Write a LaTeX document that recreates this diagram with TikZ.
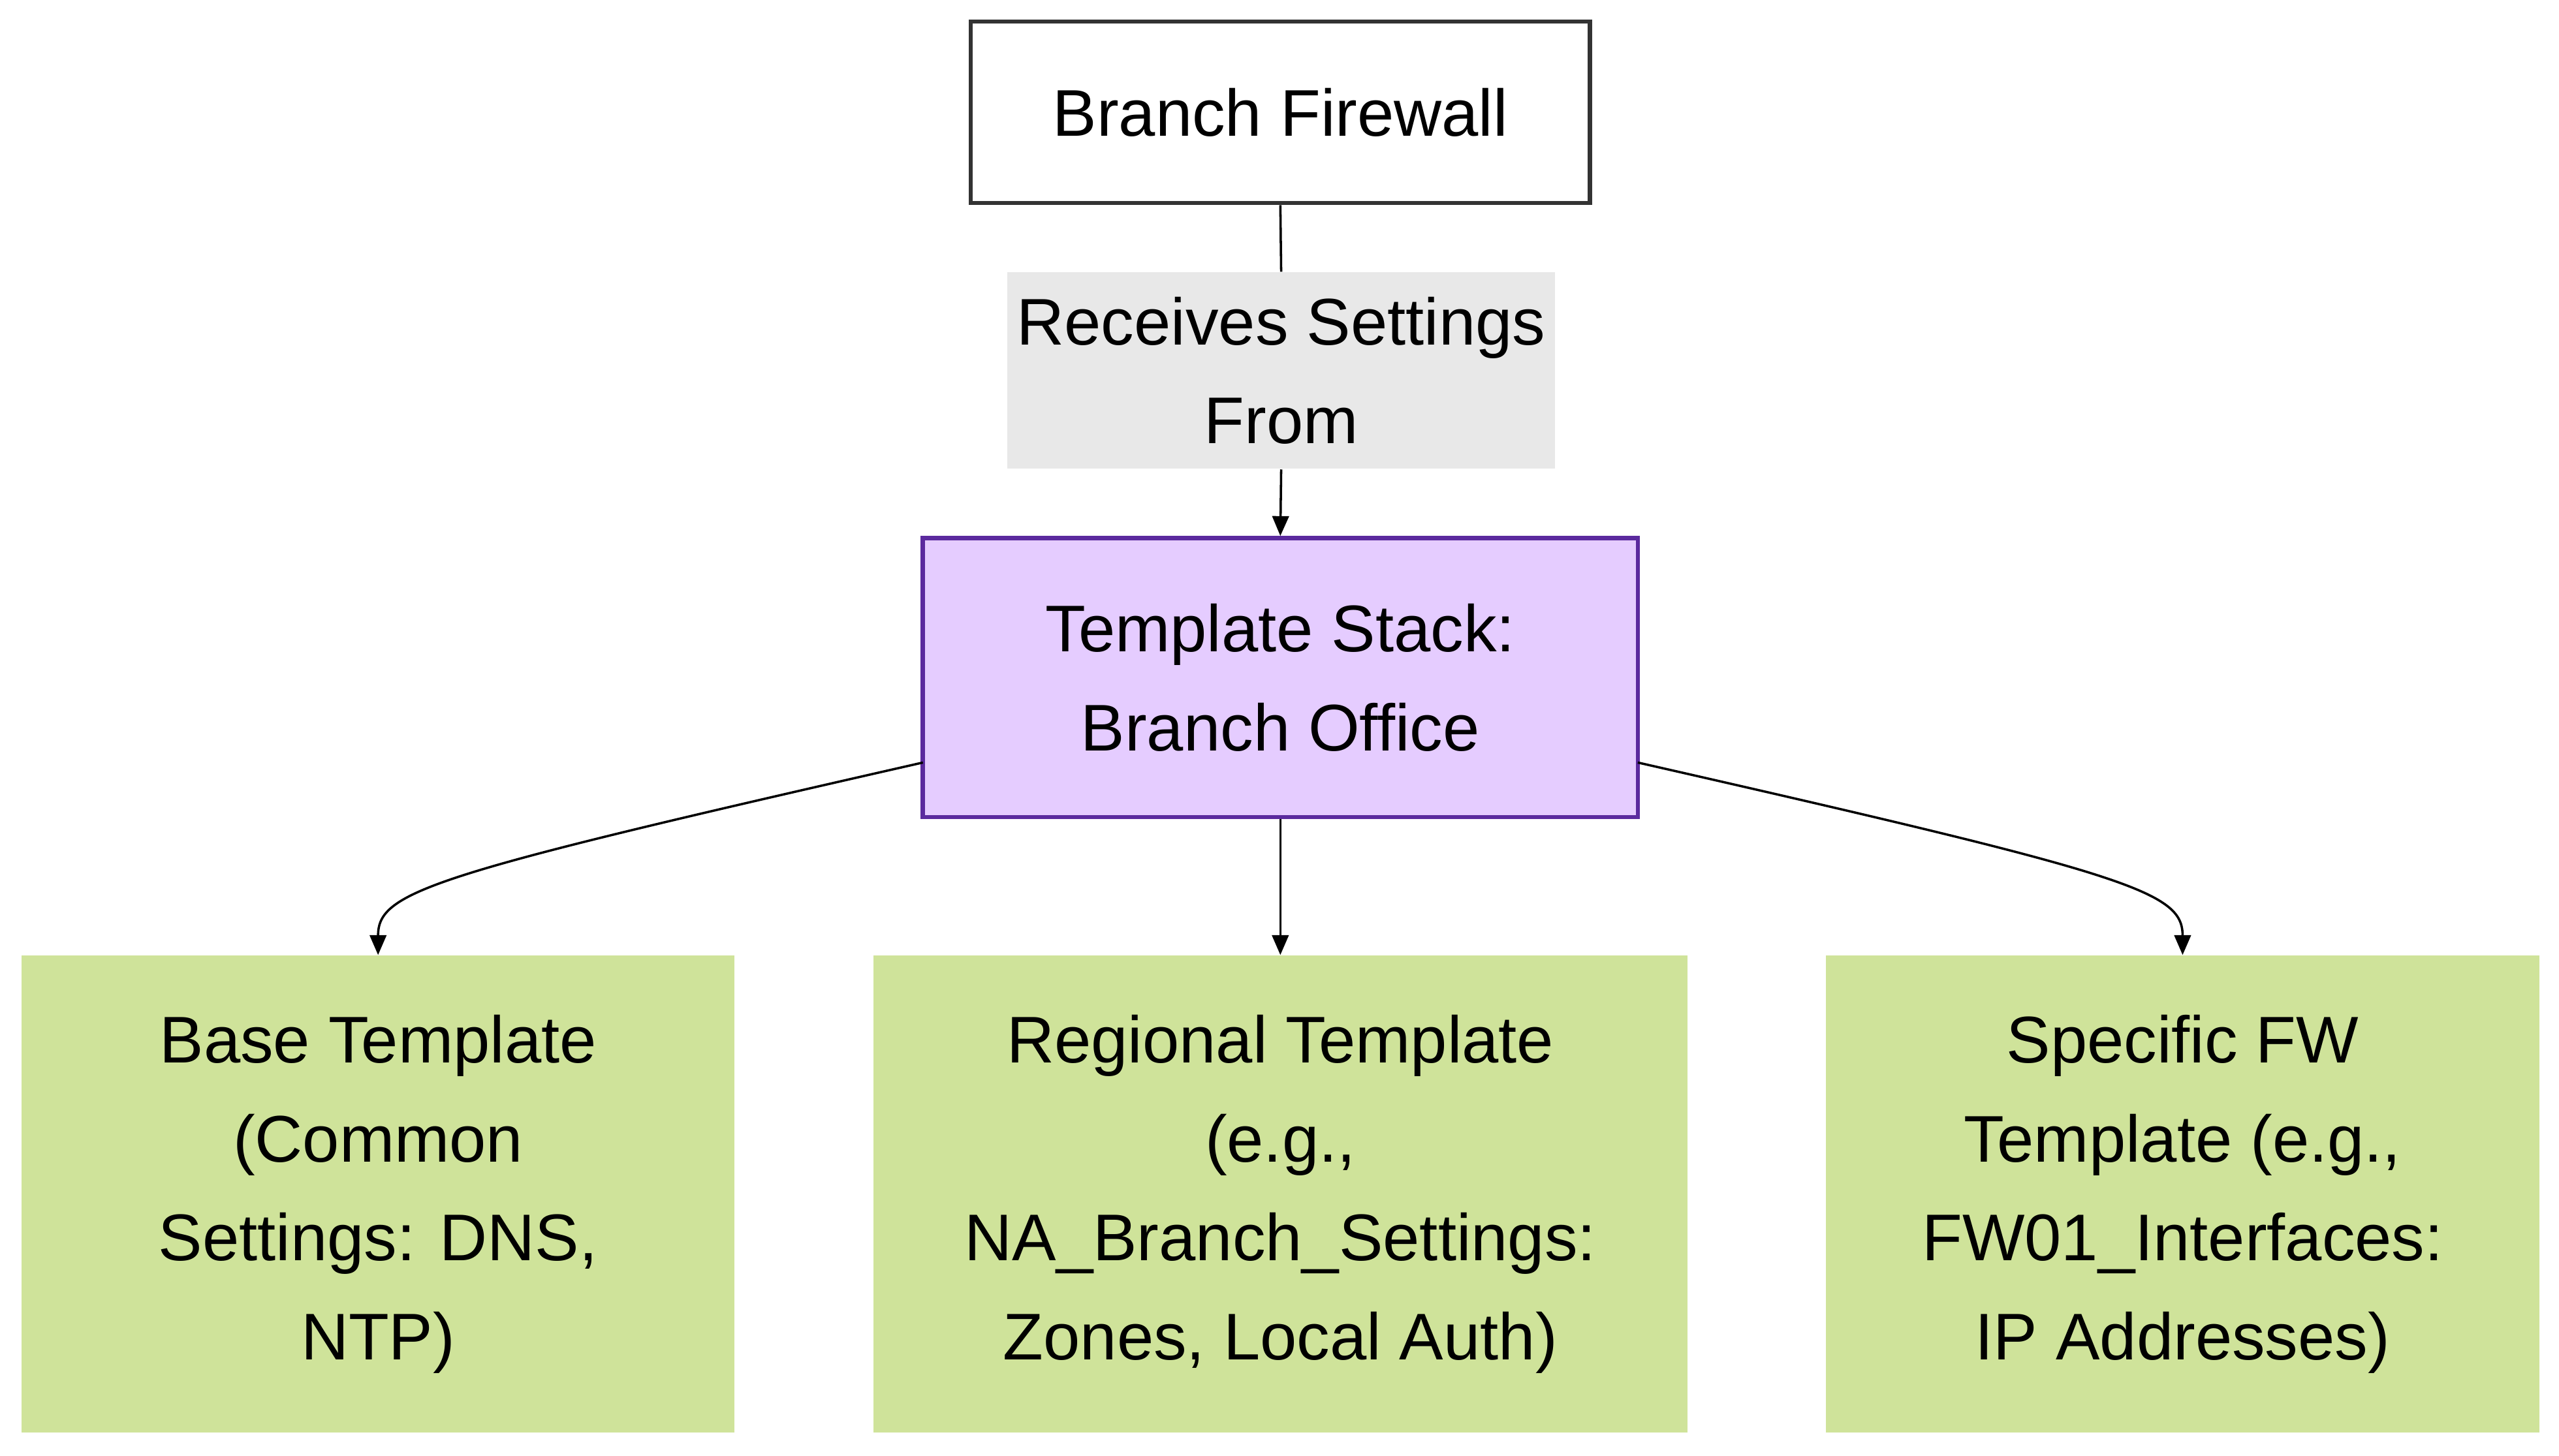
\documentclass[tikz,border=0pt]{standalone}
\usepackage{fontspec}
\setmainfont{Liberation Sans}
\usetikzlibrary{arrows.meta}
\definecolor{purpfill}{HTML}{E5CCFF}
\definecolor{purpline}{HTML}{5B2A9E}
\definecolor{greenfill}{HTML}{CFE39A}
\definecolor{lblfill}{HTML}{E8E8E8}
\begin{document}
\begin{tikzpicture}[x=0.5pt,y=-0.5pt,
  txt/.style={font=\fontsize{20}{30}\selectfont, align=center, inner sep=0pt},
  box/.style={txt, draw, line width=1.3pt},
  leaf/.style={txt, fill=greenfill, minimum width=216pt, minimum height=144.5pt},
  conn/.style={line width=0.7pt, -{Triangle[length=6pt,width=5pt]}}]
\useasboundingbox (0,0) rectangle (1550,882);
\node[box, draw=black!80, fill=white, minimum width=187.5pt, minimum height=55pt] (fw) at (775.5,68) {Branch Firewall};
\node[txt, fill=lblfill, minimum width=166pt, minimum height=59.5pt] (lbl) at (776,224.5) {Receives Settings\\From};
\node[box, draw=purpline, fill=purpfill, minimum width=216.5pt, minimum height=84.5pt] (ts) at (775.5,410.5) {Template Stack:\\Branch Office};
\node[leaf] (base) at (229,723.5) {Base Template\\(Common\\Settings: DNS,\\NTP)};
\node[leaf, minimum width=246.5pt] (reg) at (775.5,723.5) {Regional Template\\(e.g.,\\NA\_Branch\_Settings:\\Zones, Local Auth)};
\node[leaf] (spec) at (1322,723.5) {Specific FW\\Template (e.g.,\\FW01\_Interfaces:\\IP Addresses)};
\draw[line width=0.7pt] (fw.south) -- (lbl.north);
\draw[conn] (lbl.south) -- (ts.north);
\draw[conn] (ts.south) -- (reg.north);
\coordinate (tl) at (559,462);
\coordinate (tr) at (992,462);
\draw[conn] (tl) .. controls (260,530) and (229,540) .. (base.north);
\draw[conn] (tr) .. controls (1291,530) and (1322,540) .. (spec.north);
\end{tikzpicture}
\end{document}
